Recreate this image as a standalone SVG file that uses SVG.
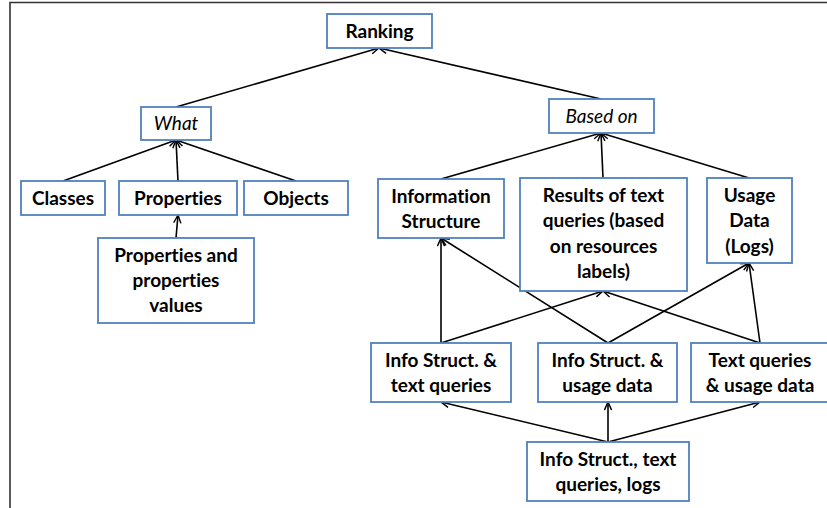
<svg xmlns="http://www.w3.org/2000/svg" width="827" height="508" viewBox="0 0 827 508">
<defs>
<marker id="ah" viewBox="0 0 10 10" refX="10" refY="5" markerWidth="9" markerHeight="9" markerUnits="userSpaceOnUse" orient="auto">
<path d="M1,1 L10,5 L1,9" fill="none" stroke="#000" stroke-width="1.6"/>
</marker>
<style>
.b{fill:#fff;stroke:#4F81BD;stroke-width:1.8}
.t{font-family:Lato,"Liberation Sans",sans-serif;font-size:19px;font-weight:bold;fill:#000;text-anchor:middle;font-variant-ligatures:none}
.i{font-family:Lato,"Liberation Sans",sans-serif;font-size:19px;font-style:italic;fill:#000;text-anchor:middle}
.c{stroke:#000;stroke-width:1.6;fill:none}
.a{marker-end:url(#ah)}
</style>
</defs>
<rect width="827" height="508" fill="#fff"/>
<path d="M10,508 V2.5 H827" fill="none" stroke="#333" stroke-width="1.6"/>
<g id="connectors">
<line class="c a" x1="176" y1="107" x2="379" y2="48"/>
<line class="c a" x1="601" y1="99" x2="379" y2="48"/>
<line class="c a" x1="63" y1="181" x2="176" y2="140"/>
<line class="c a" x1="178" y1="181" x2="176" y2="140"/>
<line class="c a" x1="296" y1="181" x2="176" y2="140"/>
<line class="c a" x1="176" y1="238" x2="178" y2="215"/>
<line class="c a" x1="441" y1="179" x2="601" y2="133"/>
<line class="c a" x1="603" y1="178" x2="601" y2="133"/>
<line class="c a" x1="749" y1="178" x2="601" y2="133"/>
<line class="c a" x1="441" y1="343" x2="441" y2="238"/>
<line class="c a" x1="441" y1="343" x2="603" y2="291"/>
<line class="c a" x1="608" y1="343" x2="441" y2="238"/>
<line class="c a" x1="608" y1="343" x2="749" y2="263"/>
<line class="c a" x1="760" y1="343" x2="603" y2="291"/>
<line class="c a" x1="760" y1="343" x2="749" y2="263"/>
<line class="c a" x1="608" y1="442" x2="441" y2="402"/>
<line class="c a" x1="608" y1="442" x2="608" y2="402"/>
<line class="c a" x1="608" y1="442" x2="760" y2="402"/>
</g>
<g id="ranking"><rect class="b" x="327" y="14" width="105" height="34"/><text class="t" x="379.5" y="38">Ranking</text></g>
<g id="what"><rect class="b" x="141" y="107" width="70" height="33"/><text class="i" x="176" y="130">What</text></g>
<g id="basedon"><rect class="b" x="549" y="99" width="105" height="34"/><text class="i" x="601.5" y="123">Based on</text></g>
<g id="classes"><rect class="b" x="21" y="181" width="84" height="34"/><text class="t" x="63" y="205">Classes</text></g>
<g id="properties"><rect class="b" x="119" y="181" width="118" height="34"/><text class="t" x="178" y="205">Properties</text></g>
<g id="objects"><rect class="b" x="244" y="181" width="104" height="34"/><text class="t" x="296" y="205">Objects</text></g>
<g id="propvals"><rect class="b" x="98" y="238" width="156" height="85"/><text class="t" x="176" y="262">Properties and</text><text class="t" x="176" y="287">properties</text><text class="t" x="176" y="312">values</text></g>
<g id="infostruct"><rect class="b" x="378" y="179" width="126" height="59"/><text class="t" x="441" y="203">Information</text><text class="t" x="441" y="228">Structure</text></g>
<g id="results"><rect class="b" x="520" y="178" width="167" height="113"/><text class="t" x="603.5" y="202">Results of text</text><text class="t" x="603.5" y="227">queries (based</text><text class="t" x="603.5" y="253">on resources</text><text class="t" x="603.5" y="278">labels)</text></g>
<g id="usage"><rect class="b" x="707" y="178" width="85" height="85"/><text class="t" x="749.5" y="202">Usage</text><text class="t" x="749.5" y="227">Data</text><text class="t" x="749.5" y="253">(Logs)</text></g>
<g id="is_tq"><rect class="b" x="371" y="343" width="140" height="59"/><text class="t" x="441" y="367">Info Struct. &amp;</text><text class="t" x="441" y="392">text queries</text></g>
<g id="is_ud"><rect class="b" x="538" y="343" width="139" height="59"/><text class="t" x="607.5" y="367">Info Struct. &amp;</text><text class="t" x="607.5" y="392">usage data</text></g>
<g id="tq_ud"><rect class="b" x="691" y="343" width="140" height="59"/><text class="t" x="760" y="367">Text queries</text><text class="t" x="760" y="392">&amp; usage data</text></g>
<g id="all"><rect class="b" x="527" y="442" width="162" height="59"/><text class="t" x="608" y="466">Info Struct., text</text><text class="t" x="608" y="491">queries, logs</text></g>
</svg>
